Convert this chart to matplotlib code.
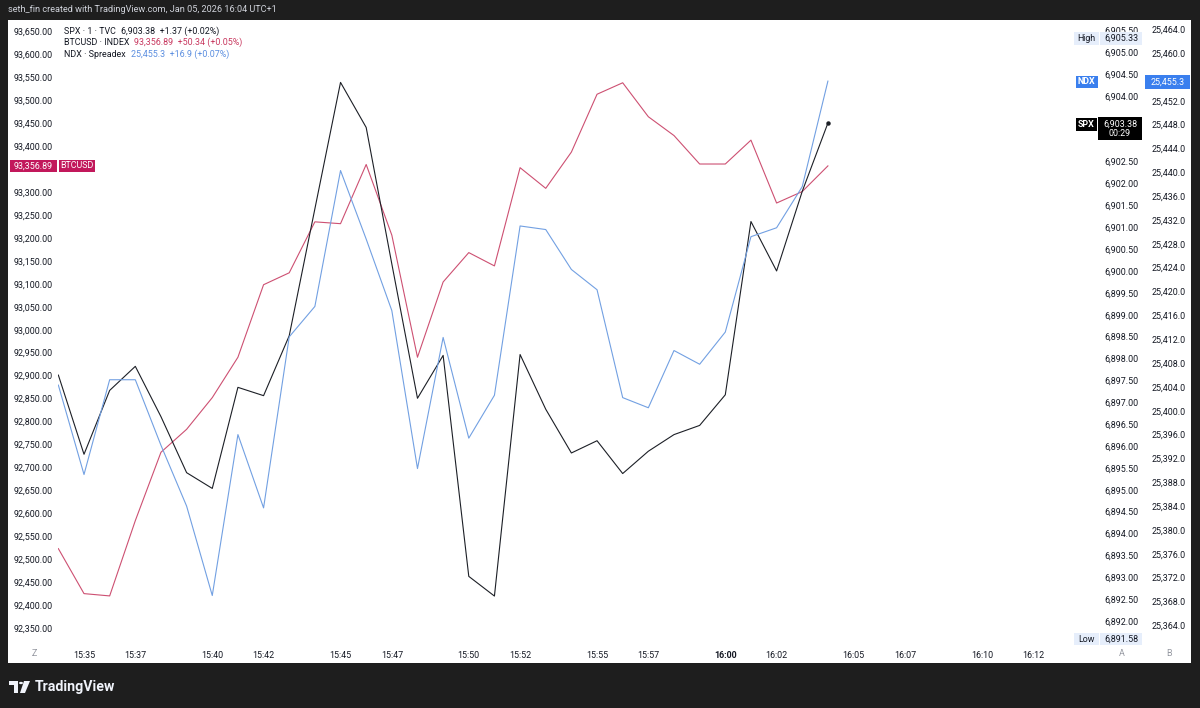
import matplotlib
matplotlib.use("Agg")
import matplotlib.pyplot as plt
from matplotlib.patches import Rectangle, Polygon, Circle

plt.rcParams['font.family'] = ['Roboto', 'DejaVu Sans']

# ---------------- data ----------------
times = ["15:34", "15:35", "15:36", "15:37", "15:38", "15:39", "15:40", "15:41",
         "15:42", "15:43", "15:44", "15:45", "15:46", "15:47", "15:48", "15:49",
         "15:50", "15:51", "15:52", "15:53", "15:54", "15:55", "15:56", "15:57",
         "15:58", "15:59", "16:00", "16:01", "16:02", "16:03", "16:04"]

spx = [6897.62, 6895.81, 6897.27, 6897.82, 6896.67, 6895.39, 6895.03, 6897.34,
       6897.15, 6898.52, 6901.42, 6904.31, 6903.28, 6900.16, 6897.09, 6898.07,
       6893.02, 6892.57, 6898.09, 6896.84, 6895.84, 6896.12, 6895.37, 6895.88,
       6896.26, 6896.47, 6897.17, 6901.13, 6900.00, 6901.82, 6903.38]

btc = [92523, 92425, 92420, 92584, 92733, 92783, 92852, 92940,
       93098, 93124, 93235, 93231, 93360, 93206, 92940, 93104,
       93168, 93139, 93353, 93308, 93387, 93513, 93538, 93464,
       93423, 93361, 93361, 93413, 93276, 93301, 93356.89]

ndx = [25404.3, 25389.3, 25405.2, 25405.2, 25394.2, 25384.0, 25369.0, 25396.0,
       25383.7, 25412.4, 25417.5, 25440.3, 25428.8, 25416.8, 25390.3, 25412.3,
       25395.4, 25402.6, 25431.0, 25430.4, 25423.7, 25420.3, 25402.2, 25400.5,
       25410.1, 25407.8, 25413.2, 25429.2, 25430.7, 25437.6, 25455.3]

time_ticks = ["15:35", "15:37", "15:40", "15:42", "15:45", "15:47", "15:50", "15:52",
              "15:55", "15:57", "16:00", "16:02", "16:05", "16:07", "16:10", "16:12"]

btc_ticks = [92350 + 50 * k for k in range(27)]
spx_ticks = [6892.0 + 0.5 * k for k in range(28)]
ndx_ticks = [25364 + 4 * k for k in range(26)]

# tick values hidden behind the price badges
btc_hidden = [93350]
spx_hidden = [6903.0, 6903.5]
ndx_hidden = [25456]

legend_lines = [
    ("SPX · 1 · TVC", "6,903.38  +1.37 (+0.02%)", "#131722"),
    ("BTCUSD · INDEX", "93,356.89  +50.34 (+0.05%)", "#c8385f"),
    ("NDX · Spreadex", "25,455.3  +16.9 (+0.07%)", "#5b8ee0"),
]

def to_min(t):
    h, m = t.split(":")
    return (int(h) - 15) * 60 + int(m)

xs = [to_min(t) for t in times]

W, H = 1200, 708
BG = "#1e1e1e"
TXT = "#131722"
C_SPX = "#1c1f26"
C_BTC = "#cd5072"
C_NDX = "#72a0e2"

fig = plt.figure(figsize=(W / 100, H / 100), dpi=100, facecolor=BG)

def fx(p):
    return p / W

def fy(p):
    return 1 - p / H

# white panel
fig.patches.append(Rectangle((fx(8), fy(663)), fx(1191) - fx(8), fy(20) - fy(663),
                             transform=fig.transFigure, facecolor="white",
                             edgecolor="none", zorder=-5))

ax_l, ax_r, ax_t, ax_b = 58, 1068, 22, 642
rect = [fx(ax_l), fy(ax_b), fx(ax_r) - fx(ax_l), fy(ax_t) - fy(ax_b)]

ax = fig.add_axes(rect)          # BTC (left scale)
ax_spx = ax.twinx()              # SPX (right scale A)
ax_ndx = ax.twinx()              # NDX (right scale B)

for a in (ax, ax_spx, ax_ndx):
    a.set_facecolor("none")
    for s in a.spines.values():
        s.set_visible(False)
    a.set_xlim(33.986, 73.36)

ax.set_ylim(92319.6, 93670.4)
ax_spx.set_ylim(6891.52, 6905.69)
ax_ndx.set_ylim(25361.2, 25465.22)

fs = 6.4
ax.set_yticks(btc_ticks)
ax.set_yticklabels(["" if v in btc_hidden else f"{v:,.2f}" for v in btc_ticks])
ax.tick_params(axis="y", length=0, pad=3.6, labelsize=fs, labelcolor=TXT)

ax_spx.set_yticks(spx_ticks)
ax_spx.set_yticklabels(["" if v in spx_hidden else f"{v:,.2f}" for v in spx_ticks])
ax_spx.tick_params(axis="y", length=0, pad=26, labelsize=fs, labelcolor=TXT)

ax_ndx.set_yticks(ndx_ticks)
ax_ndx.set_yticklabels(["" if v in ndx_hidden else f"{v:,.1f}" for v in ndx_ticks])
ax_ndx.tick_params(axis="y", length=0, pad=60.5, labelsize=fs, labelcolor=TXT)

ax.set_xticks([to_min(t) for t in time_ticks])
ax.set_xticklabels(time_ticks)
ax.tick_params(axis="x", length=0, pad=6.5, labelsize=fs, labelcolor=TXT)
for lab in ax.get_xticklabels():
    if lab.get_text() == "16:00":
        lab.set_fontweight("bold")
ax_spx.tick_params(axis="x", bottom=False, labelbottom=False)
ax_ndx.tick_params(axis="x", bottom=False, labelbottom=False)

# series
ax.plot(xs, btc, color=C_BTC, lw=0.8, zorder=2)
ax_ndx.plot(xs, ndx, color=C_NDX, lw=0.8, zorder=2)
ax_spx.plot(xs, spx, color=C_SPX, lw=0.8, zorder=3)
ax_spx.plot([xs[-1]], [spx[-1]], "o", color=C_SPX, ms=2.2, zorder=4)

# ---------------- overlays ----------------
def box(x0, y0, x1, y1, fc, z=10):
    fig.patches.append(Rectangle((fx(x0), fy(y1)), fx(x1) - fx(x0), fy(y0) - fy(y1),
                                 transform=fig.transFigure, facecolor=fc,
                                 edgecolor="none", zorder=z))

def ftext(x, y, s, color, size=fs, ha="left", weight="normal", z=11):
    fig.text(fx(x), fy(y), s, color=color, fontsize=size, ha=ha, va="center",
             fontweight=weight, zorder=z)

# header / footer
ftext(8, 10, "seth_fin created with TradingView.com, Jan 05, 2026 16:04 UTC+1",
      "#d1d4dc", size=6.6)

# TradingView logo
logo_col = "#f0f3fa"
fig.patches.append(Polygon([(fx(9), fy(681)), (fx(18), fy(681)), (fx(18), fy(693)),
                            (fx(14), fy(693)), (fx(14), fy(685)), (fx(9), fy(685))],
                           closed=True, transform=fig.transFigure, facecolor=logo_col,
                           edgecolor="none", zorder=5))
fig.patches.append(Circle((fx(21), fy(683)), 2.0 / W, transform=fig.transFigure,
                          facecolor=logo_col, edgecolor="none", zorder=5))
fig.patches.append(Polygon([(fx(24), fy(681)), (fx(30), fy(681)), (fx(25), fy(693)),
                            (fx(20), fy(693))],
                           closed=True, transform=fig.transFigure, facecolor=logo_col,
                           edgecolor="none", zorder=5))
ftext(35, 687, "TradingView", logo_col, size=10.2, weight="bold")

# legend (top-left)
for k, (name, vals, col) in enumerate(legend_lines):
    yy = 31 + k * 11.7
    t = fig.text(fx(64), fy(yy), name, color=TXT, fontsize=fs, va="center", zorder=11)
    fig.canvas.draw()
    bb = t.get_window_extent()
    fig.text(bb.x1 / W + fx(5), fy(yy), vals, color=col, fontsize=fs,
             va="center", zorder=11)

# scale buttons
ftext(34, 654, "Z", "#9598a1", ha="center")
ftext(1122, 654, "A", "#9598a1", ha="center")
ftext(1169, 654, "B", "#9598a1", ha="center")

# BTC badge (left)
box(10, 160, 56.5, 172, "#c2185b")
box(58.5, 160, 95, 172, "#c2185b")
ftext(33, 166, "93,356.89", "white", ha="center")
ftext(76.5, 166, "BTCUSD", "white", ha="center")

# High / Low
box(1074, 32, 1099, 45, "#e6eefb")
box(1100, 32, 1142, 45, "#e6eefb")
ftext(1086.5, 38.5, "High", TXT, ha="center")
ftext(1104, 38.5, "6,905.33", TXT)
box(1074, 633, 1099, 645, "#e6eefb")
box(1100, 633, 1142, 645, "#e6eefb")
ftext(1086.5, 639, "Low", TXT, ha="center")
ftext(1104, 639, "6,891.58", TXT)

# NDX badge
box(1075.5, 75.5, 1098, 88, "#3a7fee")
box(1145, 75, 1190, 88.5, "#3a7fee")
ftext(1086.7, 81.7, "NDX", "white", ha="center", weight="bold")
ftext(1167.5, 81.7, "25,455.3", "white", ha="center")

# SPX badge
box(1076, 118, 1097, 131, "black")
box(1098, 117, 1142, 140, "black")
ftext(1086.5, 124.5, "SPX", "white", ha="center", weight="bold")
ftext(1120, 124, "6,903.38", "white", ha="center")
ftext(1120, 134, "00:29", "white", ha="center")

fig.savefig("out.png", dpi=100, facecolor=BG)
